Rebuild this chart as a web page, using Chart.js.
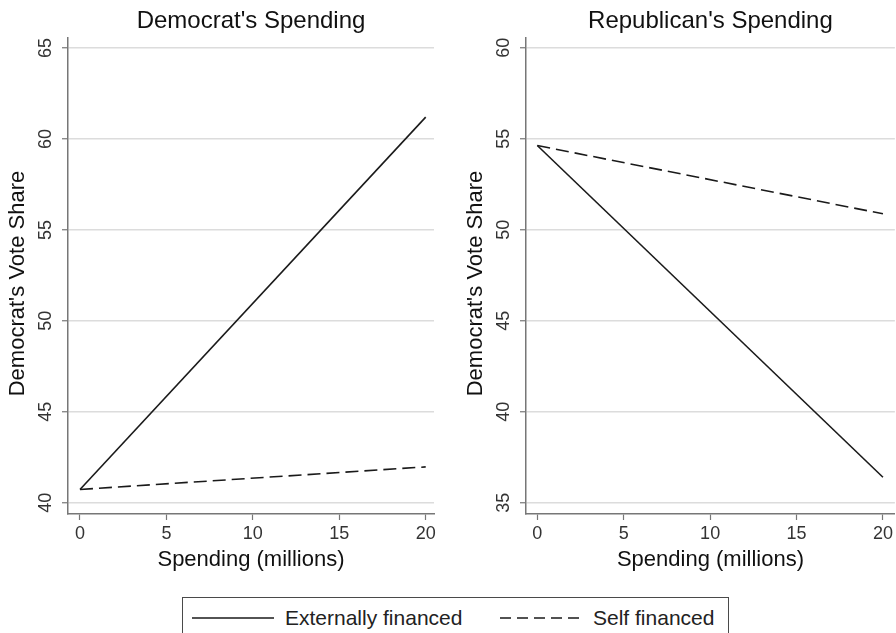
<!DOCTYPE html>
<html>
<head>
<meta charset="utf-8">
<script src="https://cdn.jsdelivr.net/npm/chart.js@4/dist/chart.umd.min.js"></script>
<style>
  html, body { margin: 0; padding: 0; background: #fff; width: 896px; height: 633px; overflow: hidden; }
  #wrap { position: relative; width: 896px; height: 633px; overflow: hidden; font-family: "Liberation Sans", Arial, sans-serif; }
  canvas { position: absolute; top: 0; }
  #c1 { left: 0; }
  #c2 { left: 450px; }
  #legend { position: absolute; left: 182px; top: 597px; width: 547px; height: 44px; box-sizing: border-box;
            border: 1.5px solid #4a4a4a; background: #fff; }
  #legend svg { position: absolute; left: 0; top: 0; }
  #legend span { position: absolute; top: 7px; font-size: 21px; line-height: 26px; color: #222; white-space: nowrap; }
</style>
</head>
<body>
<div id="wrap">
  <canvas id="c1" width="446" height="590"></canvas>
  <canvas id="c2" width="446" height="590"></canvas>
  <div id="legend">
    <svg width="545" height="42">
      <line x1="9" y1="20" x2="91" y2="20" stroke="#1a1a1a" stroke-width="1.6"/>
      <line x1="317" y1="20" x2="397" y2="20" stroke="#1a1a1a" stroke-width="1.6" stroke-dasharray="11 6"/>
    </svg>
    <span id="lg1" style="left:102px"></span>
    <span id="lg2" style="left:410px"></span>
  </div>
</div>
<script>
// ---- data ----
const spending = [0, 20];                 // Spending (millions)
const demExternal = [40.73, 61.2];        // Democrat's spending, externally financed
const demSelf = [40.73, 41.97];           // Democrat's spending, self financed
const repExternal = [54.63, 36.4];        // Republican's spending, externally financed
const repSelf = [54.63, 50.88];           // Republican's spending, self financed
const seriesNames = ['Externally financed', 'Self financed'];
const panelTitles = ["Democrat's Spending", "Republican's Spending"];
const xTickValues = [0, 5, 10, 15, 20];
const demYTicks = [40, 45, 50, 55, 60, 65];
const repYTicks = [35, 40, 45, 50, 55, 60];
const yTitle = "Democrat's Vote Share";
const xTitle = 'Spending (millions)';

document.getElementById('lg1').textContent = seriesNames[0];
document.getElementById('lg2').textContent = seriesNames[1];

const FONT = '"Liberation Sans", Arial, sans-serif';
const AXIS_COLOR = '#777';
const GRID_COLOR = '#dcdcdc';
const TICK_TEXT = '#333';
const LINE_COLOR = '#1a1a1a';

function pts(xs, ys) { return xs.map((x, i) => ({ x: x, y: ys[i] })); }

const yTitlePlugin = {
  id: 'yTitlePlugin',
  afterDraw(chart, args, opts) {
    const ca = chart.chartArea;
    const ctx = chart.ctx;
    ctx.save();
    ctx.translate(opts.x, (ca.top + ca.bottom) / 2 + opts.dy);
    ctx.rotate(-Math.PI / 2);
    ctx.font = '22px ' + FONT;
    ctx.fillStyle = '#111';
    ctx.textAlign = 'center';
    ctx.textBaseline = 'middle';
    ctx.fillText(opts.text, 0, 0);
    ctx.restore();
  }
};

function makeChart(id, title, ext, self, yTicks, xRange, yRange, yWidth, padRight, titleX) {
  return new Chart(document.getElementById(id), {
    type: 'scatter',
    data: {
      datasets: [
        { label: seriesNames[0], data: pts(spending, ext), showLine: true, borderColor: LINE_COLOR,
          borderWidth: 1.6, pointRadius: 0, tension: 0, fill: false },
        { label: seriesNames[1], data: pts(spending, self), showLine: true, borderColor: LINE_COLOR,
          borderWidth: 1.6, borderDash: [13, 6], pointRadius: 0, tension: 0, fill: false }
      ]
    },
    options: {
      responsive: false,
      animation: false,
      devicePixelRatio: 1,
      layout: { padding: { left: 0, right: padRight, top: 0, bottom: 0 } },
      plugins: {
        legend: { display: false },
        tooltip: { enabled: false },
        title: {
          display: true, text: title, fullSize: false,
          color: '#111', font: { family: FONT, size: 24, weight: 'normal' },
          padding: { top: 6.6, bottom: 2.6 }
        },
        yTitlePlugin: { text: yTitle, x: titleX, dy: 7.5 }
      },
      scales: {
        x: {
          type: 'linear', position: 'bottom', min: xRange[0], max: xRange[1],
          afterBuildTicks: s => { s.ticks = xTickValues.map(v => ({ value: v })); },
          afterFit: s => { s.height = 76; },
          border: { color: AXIS_COLOR, width: 1.5 },
          grid: { drawOnChartArea: false, tickLength: 6, tickColor: AXIS_COLOR, tickWidth: 1.2, color: 'rgba(0,0,0,0)' },
          ticks: { color: TICK_TEXT, font: { family: FONT, size: 18 }, padding: 3, maxRotation: 0, autoSkip: false },
          title: { display: true, text: xTitle, color: '#111', font: { family: FONT, size: 22 }, padding: { top: 0, bottom: 16.4 } }
        },
        y: {
          type: 'linear', position: 'left', min: yRange[0], max: yRange[1],
          afterBuildTicks: s => { s.ticks = yTicks.map(v => ({ value: v })); },
          afterFit: s => { s.width = yWidth; },
          border: { color: AXIS_COLOR, width: 1.5 },
          grid: { color: GRID_COLOR, lineWidth: 1.5, tickLength: 6, tickColor: AXIS_COLOR, tickWidth: 1.2 },
          ticks: { color: TICK_TEXT, font: { family: FONT, size: 18 }, padding: 6, minRotation: 90, maxRotation: 90,
                   crossAlign: 'center', autoSkip: false },
          title: { display: false }
        }
      }
    },
    plugins: [yTitlePlugin]
  });
}

makeChart('c1', panelTitles[0], demExternal, demSelf, demYTicks, [-0.694, 20.48], [39.38, 65.55], 68, 12, 18);
makeChart('c2', panelTitles[1], repExternal, repSelf, repYTicks, [-0.654, 20.69], [34.38, 60.54], 76, 1, 26.4);
</script>
</body>
</html>
